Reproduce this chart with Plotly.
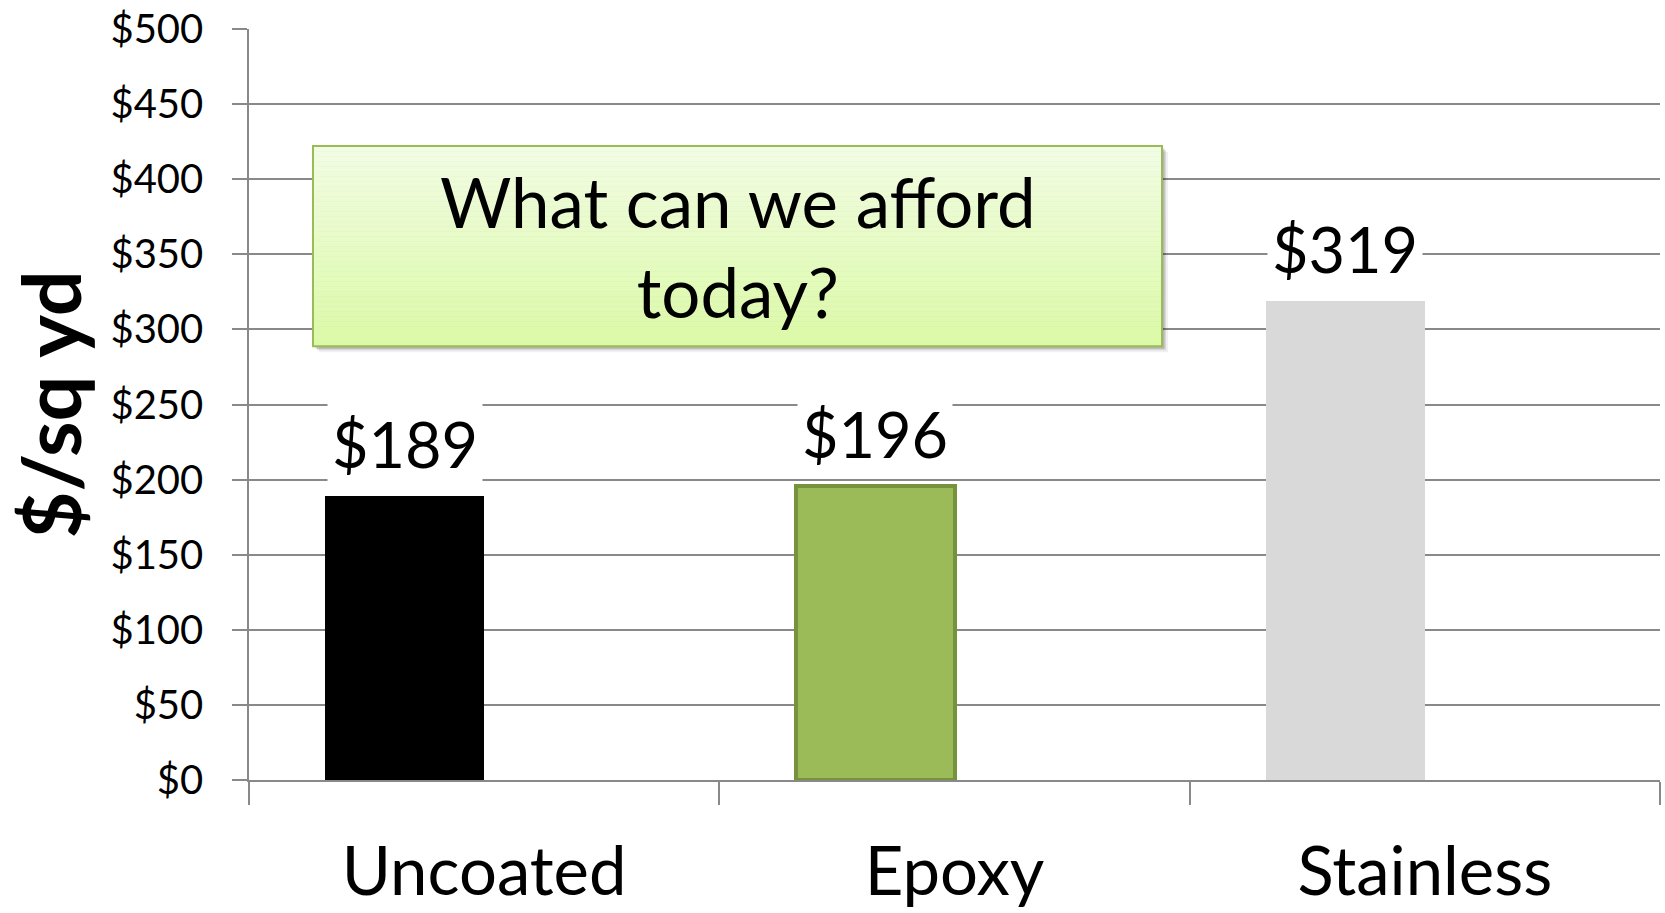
import plotly.graph_objects as go

# Cost per square yard by rebar type
categories = ["Uncoated", "Epoxy", "Stainless"]
costs = [189, 196, 319]
label_texts = ["$189", "$196", "$319"]
y_tick_values = [0, 50, 100, 150, 200, 250, 300, 350, 400, 450, 500]
y_tick_texts = ["$0", "$50", "$100", "$150", "$200", "$250",
                "$300", "$350", "$400", "$450", "$500"]

bar_colors = ["#000000", "#9BBB59", "#D9D9D9"]
bar_edge_colors = ["#000000", "#76923C", "#D9D9D9"]
bar_edge_widths = [0, 4, 0]

W, H = 1665, 913
M_L, M_R, M_T, M_B = 249, 5, 28.5, 133
PLOT_W = W - M_L - M_R
PLOT_H = H - M_T - M_B

BAR_W = 0.338          # bar width in category units
BAR_OFF = -BAR_W       # bars sit left of the category centre

FONT = "Lato"
GRID = "#898989"


def px_x(x):
    return (x - M_L) / PLOT_W


def px_y(y):
    return (H - M_B - y) / PLOT_H


fig = go.Figure()
fig.add_trace(go.Bar(
    x=categories,
    y=costs,
    width=BAR_W,
    offset=BAR_OFF,
    marker=dict(color=bar_colors,
                line=dict(color=bar_edge_colors, width=bar_edge_widths)),
    showlegend=False,
    hoverinfo="x+y",
))

annotations = []
for i, (v, t) in enumerate(zip(costs, label_texts)):
    annotations.append(dict(
        x=i + BAR_OFF / 2, y=v, xref="x", yref="y",
        text=t, showarrow=False,
        xanchor="center", yanchor="bottom", yshift=10,
        font=dict(family=FONT, size=63, color="#000000"),
        bgcolor="#FFFFFF", borderpad=4,
    ))

# axis title
annotations.append(dict(
    x=px_x(49), y=0.5, xref="paper", yref="paper",
    text="<b>$/sq yd</b>", textangle=-90, showarrow=False,
    xanchor="center", yanchor="middle",
    font=dict(family=FONT, size=81, color="#000000"),
))

# callout box: gradient fill, soft shadow, green border
bx0, bx1, by0, by1 = 313, 1162, 145.7, 346
shapes = []
for off, alpha in [(6, 0.06), (4, 0.10), (2.5, 0.16)]:
    shapes.append(dict(
        type="rect", xref="paper", yref="paper", layer="above",
        x0=px_x(bx0 + off), x1=px_x(bx1 + off),
        y0=px_y(by1 + off), y1=px_y(by0 + off),
        fillcolor=f"rgba(0,0,0,{alpha})", line=dict(width=0),
    ))
top_rgb = (242, 252, 228)
bot_rgb = (219, 250, 166)
n_strips = 40
for k in range(n_strips):
    f = (k + 0.5) / n_strips
    r = round(top_rgb[0] + (bot_rgb[0] - top_rgb[0]) * f)
    g = round(top_rgb[1] + (bot_rgb[1] - top_rgb[1]) * f)
    b = round(top_rgb[2] + (bot_rgb[2] - top_rgb[2]) * f)
    ya = by0 + (by1 - by0) * k / n_strips
    yb = by0 + (by1 - by0) * (k + 1) / n_strips
    shapes.append(dict(
        type="rect", xref="paper", yref="paper", layer="above",
        x0=px_x(bx0), x1=px_x(bx1), y0=px_y(yb + 0.6), y1=px_y(ya),
        fillcolor=f"rgb({r},{g},{b})", line=dict(width=0),
    ))
shapes.append(dict(
    type="rect", xref="paper", yref="paper", layer="above",
    x0=px_x(bx0), x1=px_x(bx1), y0=px_y(by1), y1=px_y(by0),
    fillcolor="rgba(0,0,0,0)", line=dict(color="#9BBB59", width=2),
))

annotations.append(dict(
    x=px_x((bx0 + bx1) / 2), y=px_y((by0 + by1) / 2),
    xref="paper", yref="paper",
    text="What can we afford<br>today?", showarrow=False,
    xanchor="center", yanchor="middle",
    font=dict(family=FONT, size=69, color="#000000"),
))

fig.update_layout(
    width=W, height=H,
    margin=dict(l=M_L, r=M_R, t=M_T, b=M_B, autoexpand=False),
    paper_bgcolor="#FFFFFF", plot_bgcolor="#FFFFFF",
    bargap=0,
    annotations=annotations,
    shapes=shapes,
    xaxis=dict(
        type="category", range=[-0.5, 2.5],
        showgrid=False, showline=True, linecolor=GRID, linewidth=1.5,
        ticks="outside", tickson="boundaries", ticklen=23,
        tickcolor=GRID, tickwidth=1.5,
        tickfont=dict(family=FONT, size=67, color="#000000"),
        ticklabelstandoff=33,
    ),
    yaxis=dict(
        range=[0, 500], tickvals=y_tick_values, ticktext=y_tick_texts,
        showgrid=True, gridcolor=GRID, gridwidth=1.5,
        showline=True, linecolor=GRID, linewidth=1.5,
        zeroline=False,
        ticks="outside", ticklen=15, tickcolor=GRID, tickwidth=1.5,
        tickfont=dict(family=FONT, size=40, color="#000000"),
        ticklabelstandoff=21,
    ),
)

fig.write_html("out.html")
